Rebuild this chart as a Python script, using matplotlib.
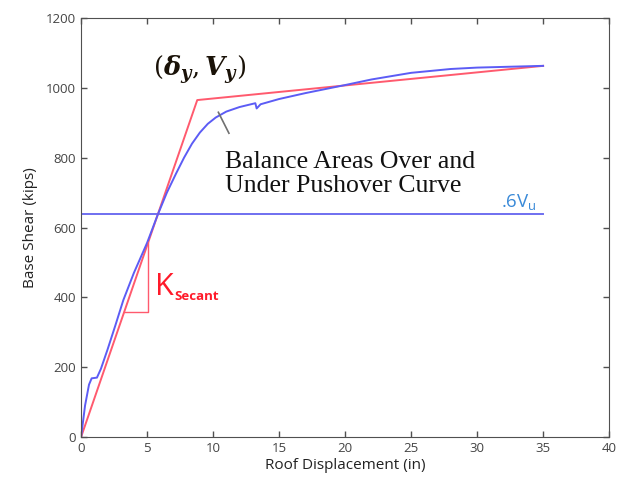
import numpy as np
import matplotlib
matplotlib.use("Agg")
from matplotlib import pyplot as plt

plt.rcParams.update({
    "font.family": "Open Sans",
    "mathtext.fontset": "dejavuserif",
})

# pushover curve (roof displacement in, base shear kips)
push_x = [0.0, 0.3, 0.6, 0.8, 1.2, 1.5, 2.0, 2.6, 3.2, 4.0, 5.0, 5.8, 6.5, 7.2,
          7.8, 8.4, 9.0, 9.6, 10.2, 11.0, 12.0, 13.2, 13.3, 13.6, 15.0, 17.0,
          20.0, 22.0, 25.0, 28.0, 30.0, 32.0, 35.0]
push_v = [0.0, 90, 150, 168, 170, 195, 250, 320, 392, 470, 556, 636, 700, 755,
          800, 840, 872, 897, 915, 932, 945, 956, 941, 953, 968, 985,
          1008, 1024, 1043, 1054, 1058, 1060, 1063]

# idealized bilinear curve
bilin_x = [0.0, 8.8, 35.0]
bilin_v = [0.0, 965, 1063]

# 0.6 Vu level
v06 = 638
v06_x = [0.0, 35.0]

# secant stiffness triangle corners (displacement)
tri_x0, tri_x1 = 3.26, 5.08

fig = plt.figure(figsize=(6.19, 4.87), dpi=100)
ax = fig.add_axes([0.131, 0.1027, 0.853, 0.8603])

red = "#ff5a6e"
blue = "#5c5cf5"

ax.plot(v06_x, [v06, v06], color="#6f6ff0", lw=1.4)
ax.plot(bilin_x, bilin_v, color=red, lw=1.4)
ax.plot(push_x, push_v, color=blue, lw=1.4)

slope = bilin_v[1] / bilin_x[1]
ax.plot([tri_x0, tri_x1, tri_x1], [slope * tri_x0, slope * tri_x0, slope * tri_x1],
        color=red, lw=1.0)

ax.text(5.6, 408, "K", color="#ff1a2a", fontsize=22, ha="left", va="baseline")
ax.text(7.05, 393, "Secant", color="#ff1a2a", fontsize=9.5, fontweight="bold",
        ha="left", va="baseline")

ax.text(34.5, 659, r".6V$_\mathregular{u}$", color="#3a8ad8", fontsize=13.5,
        ha="right", va="baseline")

ax.text(5.45, 1035, r"$(\mathbfit{\delta}_{\mathbfit{y}},\mathbfit{V}_{\mathbfit{y}})$",
        color="#1a1208", fontsize=18.5, ha="left", va="baseline")

ax.plot([10.4, 11.2], [930, 870], color="#707070", lw=1.2)
ax.text(10.9, 752, "Balance Areas Over and\nUnder Pushover Curve",
        family="Liberation Serif", fontsize=18.5, color="#111111",
        ha="left", va="center", linespacing=1.12)

ax.set_xlim(0, 40)
ax.set_ylim(0, 1200)
ax.set_xticks(np.arange(0, 41, 5))
ax.set_yticks(np.arange(0, 1201, 200))
ax.tick_params(direction="in", top=True, right=True, length=4, width=1,
               colors="#505050", labelcolor="#444444", labelsize=9.5)
for s in ax.spines.values():
    s.set_color("#505050")

ax.set_xlabel("Roof Displacement (in)", fontsize=11, color="#222222", labelpad=2)
ax.set_ylabel("Base Shear (kips)", fontsize=11, color="#222222", labelpad=6)

fig.savefig("out.png", dpi=100)
